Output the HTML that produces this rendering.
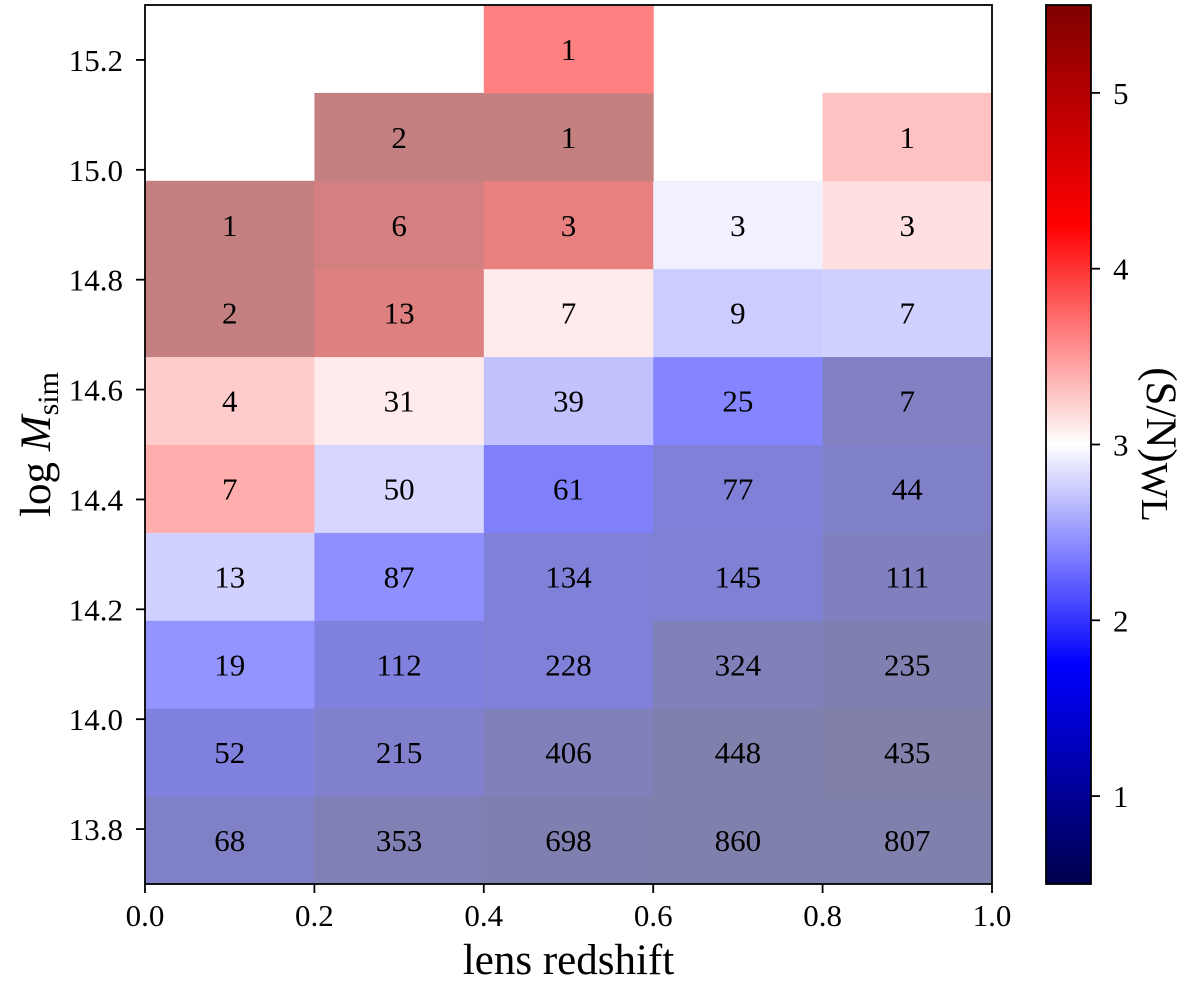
<!DOCTYPE html>
<html><head><meta charset="utf-8"><style>
html,body{margin:0;padding:0;background:#fff;}
svg{display:block;font-family:"Liberation Serif","DejaVu Serif",serif;}
</style></head><body>
<svg id="chart" width="1200" height="982" viewBox="0 0 1200 982" xmlns="http://www.w3.org/2000/svg"></svg>
<script>
const zEdges = [0.0, 0.2, 0.4, 0.6, 0.8, 1.0];
const mEdges = [13.7, 13.86, 14.02, 14.18, 14.34, 14.5, 14.66, 14.82, 14.98, 15.14, 15.3];
// rows from bottom (13.7) to top; columns by redshift bin
const counts = [
  [68, 353, 698, 860, 807],
  [52, 215, 406, 448, 435],
  [19, 112, 228, 324, 235],
  [13, 87, 134, 145, 111],
  [7, 50, 61, 77, 44],
  [4, 31, 39, 25, 7],
  [2, 13, 7, 9, 7],
  [1, 6, 3, 3, 3],
  [null, 2, 1, null, 1],
  [null, null, 1, null, null]
];
const snr = [
  [0.95, 0.7, 0.65, 0.6, 0.6],
  [1.3, 1.05, 0.8, 0.6, 0.55],
  [1.95, 1.3, 1.2, 0.8, 0.65],
  [2.55, 1.9, 1.2, 1.15, 0.85],
  [3.8, 2.6, 1.7, 1.2, 1.0],
  [3.5, 3.2, 2.4, 1.8, 0.9],
  [5.4, 4.9, 3.2, 2.5, 2.55],
  [5.4, 5.1, 4.7, 2.85, 3.3],
  [null, 5.4, 5.4, null, 3.6],
  [null, null, 4.25, null, null]
];
const xTicks = [0.0, 0.2, 0.4, 0.6, 0.8, 1.0];
const xTickLabels = ["0.0", "0.2", "0.4", "0.6", "0.8", "1.0"];
const yTicks = [13.8, 14.0, 14.2, 14.4, 14.6, 14.8, 15.0, 15.2];
const yTickLabels = ["13.8", "14.0", "14.2", "14.4", "14.6", "14.8", "15.0", "15.2"];
const cTicks = [1, 2, 3, 4, 5];
const cTickLabels = ["1", "2", "3", "4", "5"];
const vmin = 0.5, vmax = 5.5;

const L = 145, R = 992, T = 5, B = 884;
const CL = 1046, CR = 1091;
const xs = v => L + (v - 0) / (1 - 0) * (R - L);
const ys = v => B - (v - 13.7) / (15.3 - 13.7) * (B - T);
const cs = v => B - (v - vmin) / (vmax - vmin) * (B - T);

function seismic(t) {
  t = Math.max(0, Math.min(1, t));
  let r, g, b;
  if (t < 0.25) { const s = t / 0.25; r = 0; g = 0; b = 0.3 + 0.7 * s; }
  else if (t < 0.5) { const s = (t - 0.25) / 0.25; r = s; g = s; b = 1; }
  else if (t < 0.75) { const s = (t - 0.5) / 0.25; r = 1; g = 1 - s; b = 1 - s; }
  else { const s = (t - 0.75) / 0.25; r = 1 - 0.5 * s; g = 0; b = 0; }
  return [r, g, b];
}
function rgb(c, alpha) {
  const f = x => Math.round(255 * (alpha * x + (1 - alpha)));
  return `rgb(${f(c[0])},${f(c[1])},${f(c[2])})`;
}
const NS = "http://www.w3.org/2000/svg";
const svg = document.getElementById('chart');
function mk(tag, attrs, parent) {
  const e = document.createElementNS(NS, tag);
  for (const k in attrs) e.setAttribute(k, attrs[k]);
  (parent || svg).appendChild(e);
  return e;
}

const cellG = mk('g', {});


for (let i = 0; i < counts.length; i++) {
  for (let j = 0; j < counts[i].length; j++) {
    if (counts[i][j] === null) continue;
    const x0 = xs(zEdges[j]), x1 = xs(zEdges[j + 1]);
    const y0 = ys(mEdges[i + 1]), y1 = ys(mEdges[i]);
    const c = seismic((snr[i][j] - vmin) / (vmax - vmin));
    const r = mk('rect', {x: x0, y: y0, width: x1 - x0 + 0.5, height: y1 - y0 + 0.5, fill: rgb(c, 0.5)}, cellG);
    
    
    const t = mk('text', {x: (x0 + x1) / 2, y: (y0 + y1) / 2 + 11, 'text-anchor': 'middle', 'font-size': 31, fill: '#000'}, cellG);
    
    
    t.textContent = counts[i][j];
  }
}

const frame = mk('rect', {x: L, y: T, width: R - L, height: B - T, fill: 'none', stroke: '#000', 'stroke-width': 1.8});



xTicks.forEach((v, k) => {
  const x = xs(v);
  const tk = mk('line', {x1: x, x2: x, y1: B, y2: B + 9, stroke: '#000', 'stroke-width': 1.8});
  
  
  const t = mk('text', {x: x, y: B + 42, 'text-anchor': 'middle', 'font-size': 31});
  
  
  t.textContent = xTickLabels[k];
});
yTicks.forEach((v, k) => {
  const y = ys(v);
  const tk = mk('line', {x1: L - 9, x2: L, y1: y, y2: y, stroke: '#000', 'stroke-width': 1.8});
  
  
  const t = mk('text', {x: L - 22, y: y + 11, 'text-anchor': 'end', 'font-size': 31});
  
  
  t.textContent = yTickLabels[k];
});

const xl = mk('text', {x: (L + R) / 2, y: 974, 'text-anchor': 'middle', 'font-size': 43});


xl.textContent = 'lens redshift';

const yl = mk('text', {x: 0, y: 0, 'text-anchor': 'middle', 'font-size': 43, transform: `translate(50,${(T + B) / 2}) rotate(-90)`});


yl.innerHTML = 'log <tspan font-style="italic">M</tspan><tspan font-size="30" dy="8">sim</tspan>';

const defs = mk('defs', {});
const grad = mk('linearGradient', {id: 'cbgrad', x1: 0, y1: 1, x2: 0, y2: 0}, defs);
for (let k = 0; k <= 40; k++) {
  const t = k / 40;
  mk('stop', {offset: t, 'stop-color': rgb(seismic(t), 1)}, grad);
}
const cb = mk('rect', {x: CL, y: T, width: CR - CL, height: B - T, fill: 'url(#cbgrad)', stroke: '#000', 'stroke-width': 1.8});


cTicks.forEach((v, k) => {
  const y = cs(v);
  const tk = mk('line', {x1: CR, x2: CR + 9, y1: y, y2: y, stroke: '#000', 'stroke-width': 1.8});
  
  
  const t = mk('text', {x: CR + 22, y: y + 11, 'font-size': 31});
  
  
  t.textContent = cTickLabels[k];
});
const cl = mk('text', {x: 0, y: 0, 'text-anchor': 'middle', 'font-size': 43, transform: `translate(1147,${cs(3)}) rotate(90)`});


cl.innerHTML = '(S/N)<tspan font-size="38" dy="5">WL</tspan>';
</script>
</body></html>
